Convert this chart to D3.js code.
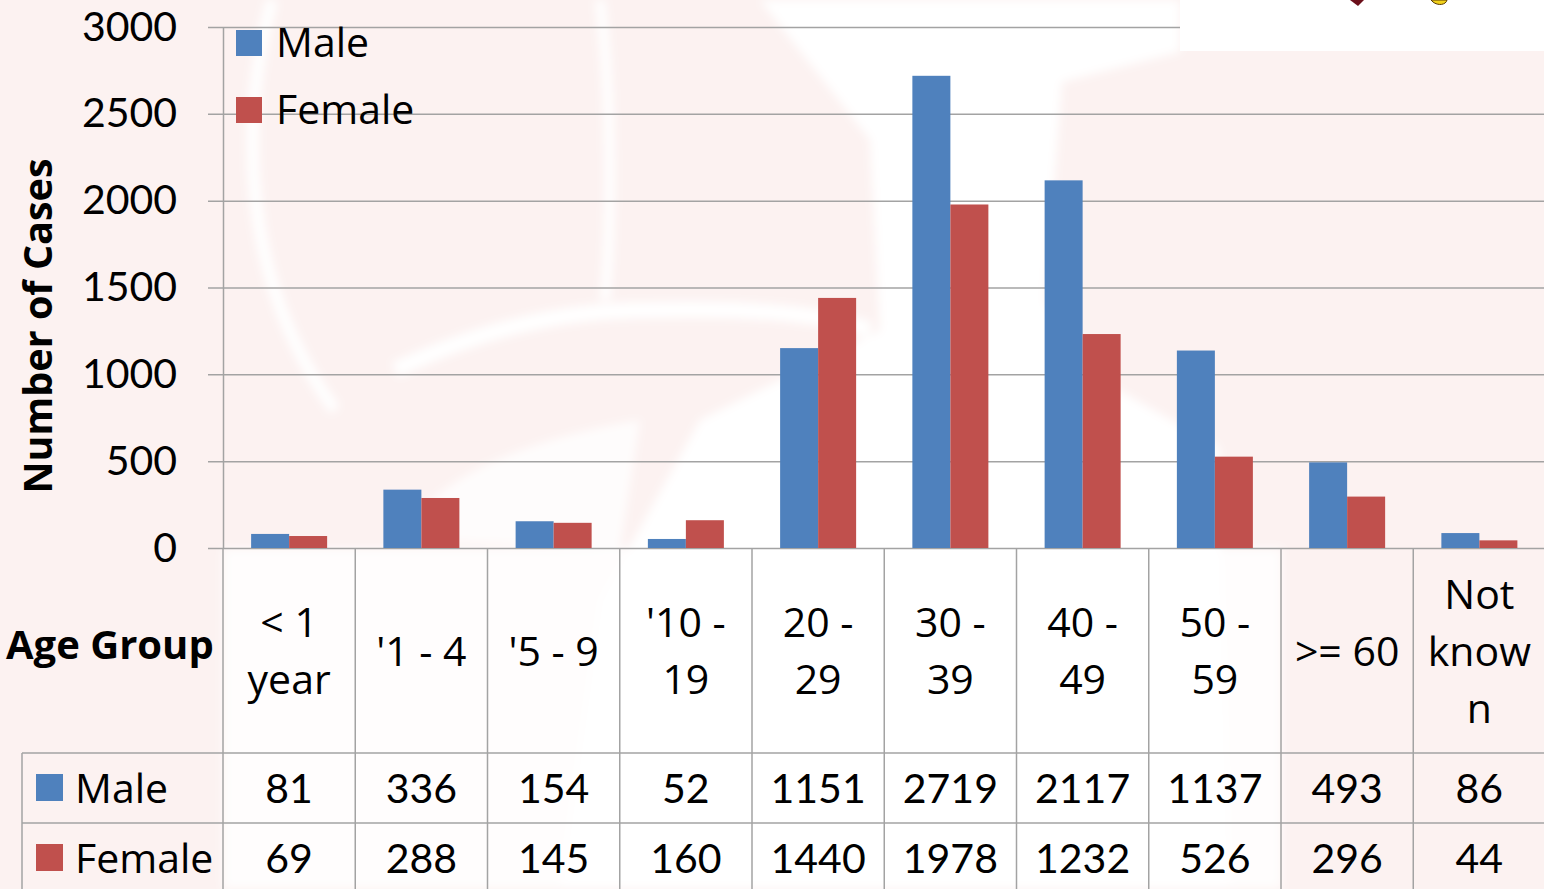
<!DOCTYPE html>
<html>
<head>
<meta charset="utf-8">
<script src="https://cdn.jsdelivr.net/npm/d3@7"></script>
<style>
  html, body { margin: 0; padding: 0; background: #fcf2f1; overflow: hidden; }
  svg { display: block; font-family: "Open Sans", Lato, sans-serif; }
</style>
</head>
<body>
<div id="chart"></div>
<script>
// datos del grafico
var ageGroups = ["< 1 year", "'1 - 4", "'5 - 9", "'10 - 19", "20 - 29", "30 - 39", "40 - 49", "50 - 59", ">= 60", "Not known"];
var ageLabelLines = [["< 1", "year"], ["'1 - 4"], ["'5 - 9"], ["'10 -", "19"], ["20 -", "29"], ["30 -", "39"], ["40 -", "49"], ["50 -", "59"], [">= 60"], ["Not", "know", "n"]];
var seriesNames = ["Male", "Female"];
var maleCases = [81, 336, 154, 52, 1151, 2719, 2117, 1137, 493, 86];
var femaleCases = [69, 288, 145, 160, 1440, 1978, 1232, 526, 296, 44];
var yTicks = [0, 500, 1000, 1500, 2000, 2500, 3000];

var width = 1544;
var height = 889;
var colors = {Male: "#4f81bd", Female: "#c0504d"};
var gridColor = "#a3a3a3";
var numFont = "Lato, sans-serif";

var svg = d3.select("#chart")
            .append("svg")
            .attr("width", width)
            .attr("height", height);

// fondo con marca de agua
var defs = svg.append("defs");
defs.append("filter").attr("id", "soft")
    .append("feGaussianBlur").attr("stdDeviation", 5);

var wm = svg.append("g").attr("filter", "url(#soft)");
wm.append("path")
  .attr("d", "M760,0 L1180,0 L1180,52 L1062,82 L1045,300 L1083,370 L1219,447 L1230,889 L560,889 L600,600 L700,420 L880,330 L870,140 Z")
  .attr("fill", "#ffffff");
wm.append("path")
  .attr("d", "M223,548 L1282,548 L1282,889 L223,889 Z")
  .attr("fill", "#ffffff").attr("opacity", 0.85);
wm.append("path")
  .attr("d", "M272,0 C240,120 240,280 335,410")
  .attr("fill", "none").attr("stroke", "#ffffff").attr("stroke-width", 12);
wm.append("path")
  .attr("d", "M600,0 C612,100 612,220 605,300")
  .attr("fill", "none").attr("stroke", "#ffffff").attr("stroke-width", 10);
wm.append("path")
  .attr("d", "M395,370 C480,330 560,310 650,310 C740,308 820,312 870,330")
  .attr("fill", "none").attr("stroke", "#ffffff").attr("stroke-width", 16);
wm.append("path")
  .attr("d", "M400,540 C430,480 520,440 640,420 L620,548 Z")
  .attr("fill", "#ffffff").attr("opacity", 0.8);

// escalas
var xLeft = 223;
var xRight = 1545.5;
var yTop = 27;
var yBottom = 548;

var x = d3.scaleBand()
          .domain(ageGroups)
          .range([xLeft, xRight])
          .padding(0);

var xSub = d3.scaleBand()
             .domain(seriesNames)
             .range([0, x.bandwidth()])
             .paddingInner(0)
             .paddingOuter(0.74);

var y = d3.scaleLinear()
          .domain([0, 3000])
          .range([yBottom, yTop]);

// rejilla y eje vertical
var yAxis = d3.axisLeft(y)
              .tickValues(yTicks)
              .tickSizeInner(-(xRight - xLeft))
              .tickSizeOuter(0)
              .tickPadding(46)
              .tickFormat(d3.format("d"));

var gAxis = svg.append("g")
               .attr("transform", "translate(" + xLeft + ",0)")
               .call(yAxis);

gAxis.select(".domain").attr("stroke", gridColor).attr("stroke-width", 1.5);
gAxis.selectAll(".tick line")
     .attr("x1", -15)
     .attr("stroke", gridColor)
     .attr("stroke-width", 1.5);
gAxis.selectAll(".tick text")
     .attr("fill", "#000")
     .style("font-size", "41px")
     .style("font-family", numFont);

// barras
var rows = ageGroups.map(function(g, i) {
    return {group: g, Male: maleCases[i], Female: femaleCases[i]};
});

var groups = svg.append("g")
                .selectAll("g")
                .data(rows)
                .enter()
                .append("g")
                .attr("transform", (d) => "translate(" + x(d.group) + ",0)");

groups.selectAll("rect")
      .data((d) => seriesNames.map((s) => ({key: s, value: d[s]})))
      .enter()
      .append("rect")
      .attr("x", (d) => xSub(d.key))
      .attr("y", (d) => y(d.value))
      .attr("width", xSub.bandwidth())
      .attr("height", (d) => y(0) - y(d.value))
      .attr("fill", (d) => colors[d.key]);

// leyenda
var legend = svg.append("g")
                .selectAll("g")
                .data(seriesNames)
                .enter()
                .append("g")
                .attr("transform", (d, i) => "translate(236," + (30 + i * 67) + ")");

legend.append("rect")
      .attr("width", 26)
      .attr("height", 26)
      .attr("fill", (d) => colors[d]);

legend.append("text")
      .attr("x", 40)
      .attr("y", 27)
      .style("font-size", "41px")
      .text((d) => d);

// caja blanca del logo
svg.append("rect")
   .attr("x", 1180).attr("y", 0)
   .attr("width", 364).attr("height", 51)
   .attr("fill", "#ffffff");
svg.append("path")
   .attr("d", "M1350,0 L1364,0 L1358,6 Z")
   .attr("fill", "#6b0f1a");
svg.append("path")
   .attr("d", "M1431,0 L1447,0 C1446,5 1438,6 1433,2 Z")
   .attr("fill", "#f2d21b").attr("stroke", "#5a3a00").attr("stroke-width", 1);

// titulo eje y
svg.append("text")
   .attr("transform", "translate(52,326) rotate(-90)")
   .attr("text-anchor", "middle")
   .style("font-size", "39.5px")
   .style("font-weight", "bold")
   .text("Number of Cases");

// tabla de datos
var rowMale = 753;
var rowFemale = 823;
var tableBottom = 893;
var boundaries = ageGroups.map((g) => x(g)).concat([xRight]);

var table = svg.append("g");

table.selectAll("line.vline")
     .data(boundaries)
     .enter()
     .append("line")
     .attr("class", "vline")
     .attr("x1", (d) => d).attr("x2", (d) => d)
     .attr("y1", yBottom).attr("y2", tableBottom)
     .attr("stroke", gridColor)
     .attr("stroke-width", 1.5);

table.append("line")
     .attr("x1", 22).attr("x2", 22)
     .attr("y1", rowMale).attr("y2", tableBottom)
     .attr("stroke", gridColor).attr("stroke-width", 1.5);

table.selectAll("line.hline")
     .data([rowMale, rowFemale])
     .enter()
     .append("line")
     .attr("class", "hline")
     .attr("x1", 22).attr("x2", xRight)
     .attr("y1", (d) => d).attr("y2", (d) => d)
     .attr("stroke", gridColor).attr("stroke-width", 1.5);

// eje x: etiquetas de grupos de edad
var lineH = 57;
var headerMid = 651;
var header = table.selectAll("text.hdr")
                  .data(ageGroups)
                  .enter()
                  .append("text")
                  .attr("class", "hdr")
                  .attr("text-anchor", "middle")
                  .style("font-size", "41px");

header.each(function(g, i) {
    var lines = ageLabelLines[i];
    var t = d3.select(this);
    lines.forEach(function(l, k) {
        t.append("tspan")
         .attr("x", x(g) + x.bandwidth() / 2)
         .attr("y", headerMid + (k - (lines.length - 1) / 2) * lineH)
         .attr("dy", "0.36em")
         .text(l);
    });
});

table.append("text")
     .attr("x", 6)
     .attr("y", 659)
     .style("font-size", "40px")
     .style("font-weight", "bold")
     .text("Age Group");

// filas de valores
var seriesData = [maleCases, femaleCases];
var rowCenters = [788, 858];

seriesNames.forEach(function(s, si) {
    table.append("rect")
         .attr("x", 36)
         .attr("y", rowCenters[si] - 14)
         .attr("width", 27)
         .attr("height", 27)
         .attr("fill", colors[s]);

    table.append("text")
         .attr("x", 75)
         .attr("y", rowCenters[si])
         .attr("dy", "0.36em")
         .style("font-size", "41px")
         .text(s);

    table.selectAll("text.v" + si)
         .data(seriesData[si])
         .enter()
         .append("text")
         .attr("class", "v" + si)
         .attr("x", (d, i) => x(ageGroups[i]) + x.bandwidth() / 2)
         .attr("y", rowCenters[si])
         .attr("dy", "0.36em")
         .attr("text-anchor", "middle")
         .style("font-size", "41px")
         .style("font-family", numFont)
         .text((d) => d);
});
</script>
</body>
</html>
